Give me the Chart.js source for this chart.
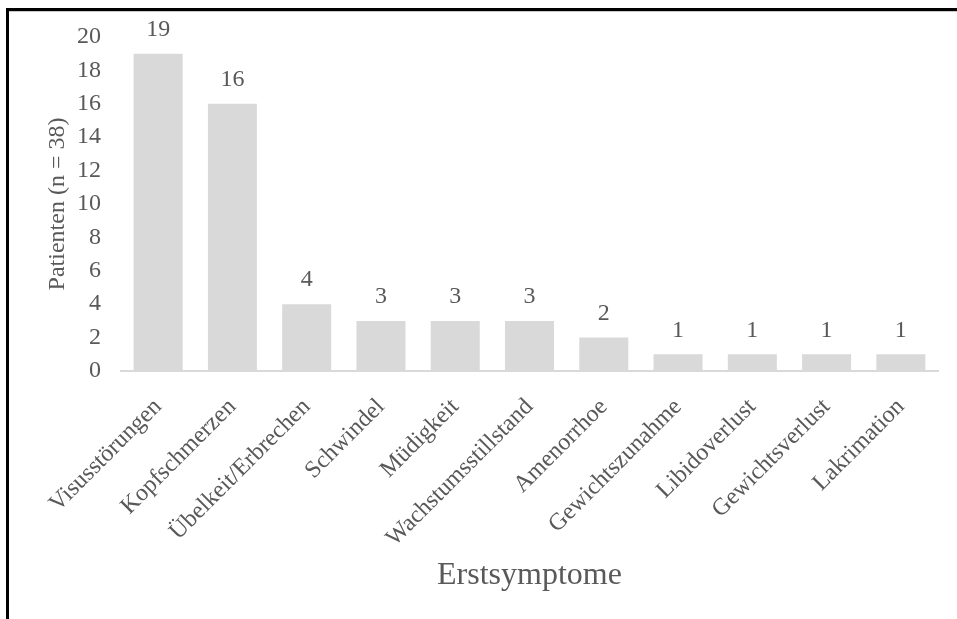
<!DOCTYPE html>
<html>
<head>
<meta charset="utf-8">
<script src="https://cdn.jsdelivr.net/npm/chart.js@4/dist/chart.umd.min.js"></script>
<style>
  html, body { margin: 0; padding: 0; background: #fff; }
  #wrap { width: 957px; height: 619px; position: relative; }
</style>
</head>
<body>
<div id="wrap"><canvas id="chart"></canvas></div>
<script>
const categories = [
  'Visusstörungen', 'Kopfschmerzen', 'Übelkeit/Erbrechen', 'Schwindel', 'Müdigkeit',
  'Wachstumsstillstand', 'Amenorrhoe', 'Gewichtszunahme', 'Libidoverlust',
  'Gewichtsverlust', 'Lakrimation'
];
const patients = [19, 16, 4, 3, 3, 3, 2, 1, 1, 1, 1];
const yTicks = [0, 2, 4, 6, 8, 10, 12, 14, 16, 18, 20];

const textColor = '#595959';
const fontFamily = '"Liberation Serif", "Times New Roman", serif';

// frame lines (left + top) like the cropped figure
const framePlugin = {
  id: 'frame',
  beforeDraw(chart) {
    const ctx = chart.ctx;
    ctx.save();
    ctx.fillStyle = '#ffffff';
    ctx.fillRect(0, 0, chart.width, chart.height);
    ctx.fillStyle = '#000000';
    ctx.fillRect(6, 8, 3, chart.height - 8);
    ctx.fillRect(6, 8, chart.width - 6, 3);
    ctx.fillStyle = '#c8c8c8';
    ctx.fillRect(9, 11, chart.width - 9, 1);
    ctx.restore();
  }
};

// value labels above each bar
const valueLabels = {
  id: 'valueLabels',
  afterDatasetsDraw(chart) {
    const ctx = chart.ctx;
    const meta = chart.getDatasetMeta(0);
    ctx.save();
    ctx.fillStyle = textColor;
    ctx.font = '24px ' + fontFamily;
    ctx.textAlign = 'center';
    ctx.textBaseline = 'middle';
    meta.data.forEach((bar, i) => {
      ctx.fillText(String(patients[i]), bar.x, bar.y - 24);
    });
    ctx.restore();
  }
};

new Chart(document.getElementById('chart'), {
  type: 'bar',
  data: {
    labels: categories,
    datasets: [{
      data: patients,
      backgroundColor: '#d9d9d9',
      borderWidth: 0,
      categoryPercentage: 1,
      barPercentage: 0.66
    }]
  },
  options: {
    responsive: true,
    maintainAspectRatio: false,
    animation: false,
    layout: { padding: { top: 37, right: 19, left: 0, bottom: 0 } },
    plugins: {
      legend: { display: false },
      tooltip: { enabled: false }
    },
    scales: {
      x: {
        grid: { display: false, drawTicks: false },
        border: { display: true, color: '#d9d9d9', width: 2 },
        ticks: {
          color: textColor,
          font: { family: fontFamily, size: 24 },
          minRotation: 45,
          maxRotation: 45,
          autoSkip: false,
          padding: 22
        },
        title: {
          display: true,
          text: 'Erstsymptome',
          color: textColor,
          font: { family: fontFamily, size: 32 },
          padding: { top: 0, bottom: 24 }
        },
        afterFit(scale) { scale.height = 248; }
      },
      y: {
        min: 0,
        max: 20,
        afterBuildTicks(scale) { scale.ticks = yTicks.map(v => ({ value: v })); },
        grid: { display: false, drawTicks: false },
        border: { display: false },
        ticks: {
          color: textColor,
          font: { family: fontFamily, size: 24 },
          padding: 20
        },
        title: {
          display: true,
          text: 'Patienten (n = 38)',
          color: textColor,
          font: { family: fontFamily, size: 24 },
          padding: { top: 43, bottom: 0 }
        },
        afterFit(scale) { scale.width = 121; }
      }
    }
  },
  plugins: [framePlugin, valueLabels]
});
</script>
</body>
</html>
